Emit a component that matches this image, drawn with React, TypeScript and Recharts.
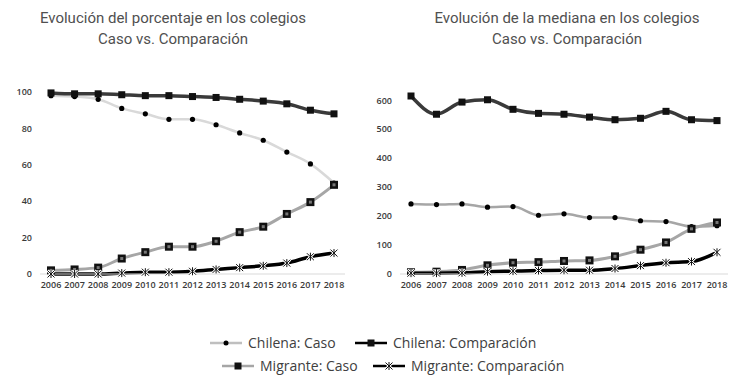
import React from "react";
import { LineChart, Line, XAxis, YAxis } from "recharts";

const years = ["2006", "2007", "2008", "2009", "2010", "2011", "2012", "2013", "2014", "2015", "2016", "2017", "2018"];

// porcentaje en los colegios
const pctChilenaCaso = [98, 97.5, 96, 91, 88, 85, 85, 82, 77.5, 73.5, 67, 60.5, 50];
const pctChilenaComp = [99.5, 99, 99, 98.5, 98, 98, 97.5, 97, 96, 95, 93.5, 90, 88];
const pctMigranteCaso = [2, 2.5, 3.5, 8.5, 12, 15, 15, 18, 23, 26, 33, 39.5, 49];
const pctMigranteComp = [0, 0, 0, 0.5, 1, 1, 1.5, 2.5, 3.5, 4.5, 6, 9.5, 11.5];

// mediana en los colegios
const medChilenaCaso = [242, 240, 242, 231, 233, 203, 208, 195, 195, 184, 181, 164, 167];
const medChilenaComp = [615, 552, 594, 602, 569, 555, 552, 542, 533, 538, 562, 533, 530];
const medMigranteCaso = [6, 8, 14, 30, 39, 41, 45, 47, 61, 84, 109, 156, 178];
const medMigranteComp = [3, 3, 4, 8, 10, 12, 13, 13, 19, 29, 39, 43, 75];

const pctTicks = [0, 20, 40, 60, 80, 100];
const medTicks = [0, 100, 200, 300, 400, 500, 600];

const build = (a: number[], b: number[], c: number[], d: number[]) =>
  years.map((y, i) => ({ year: y, chCaso: a[i], chComp: b[i], miCaso: c[i], miComp: d[i] }));

const pctData = build(pctChilenaCaso, pctChilenaComp, pctMigranteCaso, pctMigranteComp);
const medData = build(medChilenaCaso, medChilenaComp, medMigranteCaso, medMigranteComp);

const tickStyle = { fill: "#3a3a3a", fontSize: 9, fontFamily: "Open Sans", fontWeight: 600 };

const RoundDot = (props: any) => (
  <circle key={props.key ?? props.index} cx={props.cx} cy={props.cy} r={2.6} fill="#000" />
);

const SquareDot = (props: any) => (
  <rect key={props.key ?? props.index} x={props.cx - 3.5} y={props.cy - 3.5} width={7} height={7} fill="#111" />
);

const BoxDot = (props: any) => (
  <g key={props.key ?? props.index}>
    <rect x={props.cx - 4} y={props.cy - 4} width={8} height={8} fill="#111" />
    <rect x={props.cx - 1.5} y={props.cy - 1.5} width={3} height={3} fill="#777" />
  </g>
);

const StarDot = (props: any) => {
  const { cx, cy } = props;
  const s = 3.5;
  const d = `M${cx - s},${cy - s}L${cx + s},${cy + s}M${cx - s},${cy + s}L${cx + s},${cy - s}M${cx},${cy - s - 0.5}L${cx},${cy + s + 0.5}`;
  return (
    <g key={props.key ?? props.index}>
      <path d={d} stroke="#fff" strokeWidth={2.6} />
      <path d={d} stroke="#111" strokeWidth={1} />
    </g>
  );
};

function Panel({ data, ticks, max, width, top, casoColor }: { data: any[]; ticks: number[]; max: number; width: number; top: number; casoColor: string }) {
  return (
    <LineChart width={width} height={300} data={data} margin={{ top, right: 4, bottom: 0, left: 0 }}>
      <XAxis
        dataKey="year"
        height={26}
        tick={tickStyle}
        tickLine={false}
        axisLine={{ stroke: "#d9d9d9" }}
        tickMargin={8}
        tickSize={0}
        padding={{ left: 11, right: 11 }}
        interval={0}
      />
      <YAxis
        width={40}
        domain={[0, max]}
        ticks={ticks}
        tick={tickStyle}
        tickLine={false}
        axisLine={false}
        tickSize={0}
        tickMargin={8}
      />
      <Line type="monotone" dataKey="chCaso" stroke={casoColor} strokeWidth={2.5} dot={RoundDot} isAnimationActive={false} />
      <Line type="monotone" dataKey="miCaso" stroke="#a6a6a6" strokeWidth={3} dot={BoxDot} isAnimationActive={false} />
      <Line type="monotone" dataKey="miComp" stroke="#000" strokeWidth={3.5} dot={StarDot} isAnimationActive={false} />
      <Line type="monotone" dataKey="chComp" stroke="#3a3a3a" strokeWidth={3.5} dot={SquareDot} isAnimationActive={false} />
    </LineChart>
  );
}

const titleStyle: React.CSSProperties = {
  position: "absolute",
  width: 340,
  textAlign: "center",
  fontFamily: "Roboto",
  fontSize: 15,
  lineHeight: "21px",
  color: "#505050",
  top: 8,
};

const legendText: React.CSSProperties = { fontFamily: "Open Sans", fontSize: 14, color: "#404040", marginLeft: 6 };

function LegendIcon({ color, kind }: { color: string; kind: string }) {
  return (
    <svg width={32} height={10} style={{ display: "block" }}>
      <line x1={0} y1={5} x2={32} y2={5} stroke={color} strokeWidth={2.5} />
      {kind === "dot" && <circle cx={16} cy={5} r={2.5} fill="#000" />}
      {kind === "square" && <rect x={12.5} y={1.5} width={7} height={7} fill="#111" />}
      {kind === "star" && <StarDot cx={16} cy={5} index={0} />}
    </svg>
  );
}

function LegendItem({ color, kind, label, x, y }: { color: string; kind: string; label: string; x: number; y: number }) {
  return (
    <div style={{ position: "absolute", left: x, top: y, display: "flex", alignItems: "center", whiteSpace: "nowrap" }}>
      <LegendIcon color={color} kind={kind} />
      <span style={legendText}>{label}</span>
    </div>
  );
}

export default function App() {
  return (
    <div style={{ position: "absolute", left: 0, top: 0, width: 732, height: 378, background: "#fff", overflow: "hidden" }}>
      <div style={{ ...titleStyle, left: 3 }}>
        Evolución del porcentaje en los colegios
        <br />
        Caso vs. Comparación
      </div>
      <div style={{ ...titleStyle, left: 397 }}>
        Evolución de la mediana en los colegios
        <br />
        Caso vs. Comparación
      </div>
      <div style={{ position: "absolute", left: 0, top: 0 }}>
        <Panel data={pctData} ticks={pctTicks} max={100} width={349} top={92} casoColor="#d9d9d9" />
      </div>
      <div style={{ position: "absolute", left: 360, top: 0 }}>
        <Panel data={medData} ticks={medTicks} max={600} width={372} top={96} casoColor="#a6a6a6" />
      </div>
      <LegendItem color="#bfbfbf" kind="dot" label="Chilena: Caso" x={210} y={333} />
      <LegendItem color="#000" kind="square" label="Chilena: Comparación" x={355} y={333} />
      <LegendItem color="#a6a6a6" kind="square" label="Migrante: Caso" x={222} y={356} />
      <LegendItem color="#000" kind="star" label="Migrante: Comparación" x={373} y={356} />
    </div>
  );
}
